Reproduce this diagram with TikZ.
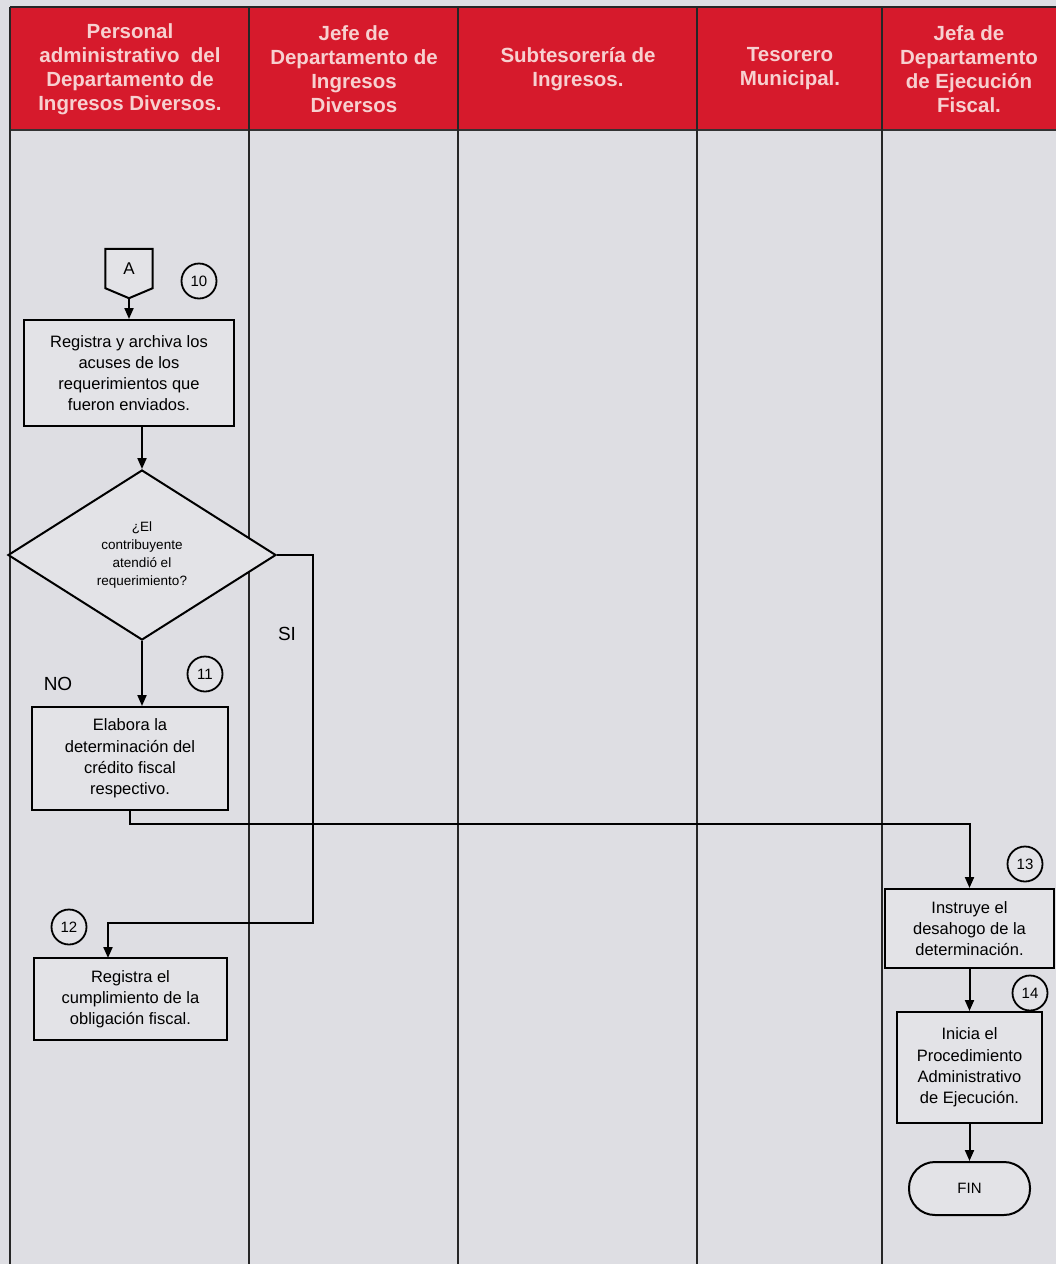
\documentclass[tikz,border=0pt]{standalone}
\usepackage{fontspec}
\setmainfont{Liberation Sans}
\usetikzlibrary{shapes.geometric,arrows.meta,calc}

\definecolor{pagebg}{RGB}{222,222,227}
\definecolor{headred}{RGB}{214,26,44}
\definecolor{headtxt}{RGB}{247,208,208}
\definecolor{boxfill}{RGB}{227,227,231}

\begin{document}
\begin{tikzpicture}[x=1pt,y=-1pt,
  lane/.style={line width=1.8pt, draw=black!85},
  head/.style={text=headtxt, font=\bfseries\fontsize{20.5}{24}\selectfont, align=center},
  proc/.style={draw, line width=2pt, fill=boxfill, align=center, inner sep=0pt,
               font=\fontsize{16.5}{21.2}\selectfont},
  decision/.style={diamond, draw, line width=2pt, fill=boxfill, inner sep=0pt,
               minimum width=268pt, minimum height=170pt},
  qtext/.style={align=center, font=\fontsize{13.5}{18.3}\selectfont},
  stepnum/.style={circle, draw, line width=1.8pt, fill=boxfill, minimum size=35pt,
               inner sep=0pt, font=\fontsize{15}{15}\selectfont},
  terminal/.style={draw, line width=2pt, fill=boxfill, rounded corners=26pt,
               minimum width=121pt, minimum height=53pt, inner sep=0pt,
               font=\fontsize{15}{15}\selectfont},
  arr/.style={line width=2pt, -{Triangle[length=11pt,width=9pt]}},
  branch/.style={font=\fontsize{19}{19}\selectfont}
]
\useasboundingbox (0,0) rectangle (1056,1264);
\fill[pagebg] (0,0) rectangle (1056,1264);

% header band
\fill[headred] (10,7) rectangle (1056,130);
\draw[lane] (10,7) -- (1056,7);
\draw[line width=2.4pt, draw=black!80] (10,130) -- (1056,130);
\foreach \lx in {10,249,458,697,882}
  \draw[lane] (\lx,7) -- (\lx,1264);

\node[head] (h1) at (130,69) {Personal\\administrativo\ \ del\\Departamento de\\Ingresos Diversos.};
\node[head] (h2) at (354,69) {Jefe de\\Departamento de\\Ingresos\\Diversos};
\node[head] (h3) at (578,69) {Subtesorería de\\Ingresos.};
\node[head] (h4) at (790,69) {Tesorero\\Municipal.};
\node[head] (h5) at (969,69) {Jefa de\\Departamento\\de Ejecución\\Fiscal.};

% off-page connector A
\node[minimum width=47pt, minimum height=39pt, inner sep=0pt] (A) at (129,268.5) {};
\coordinate (Atip) at ($(A.south)+(0,10)$);
\draw[line width=2pt, fill=boxfill] (A.north west) -- (A.north east) -- (A.south east)
  -- (Atip) -- (A.south west) -- cycle;
\node[font=\fontsize{17}{17}\selectfont] (Alabel) at (A) {A};

% process boxes
\node[proc, minimum width=210pt, minimum height=106pt] (b1) at (129,373)
  {Registra y archiva los\\acuses de los\\requerimientos que\\fueron enviados.};
\node[decision, label={[qtext]center:{¿El\\contribuyente\\atendió el\\requerimiento?}}] (d1) at (142,555) {};
\node[proc, minimum width=196pt, minimum height=103pt] (b2) at (130,758.5)
  {Elabora la\\determinación del\\crédito fiscal\\respectivo.};
\node[proc, minimum width=193pt, minimum height=82pt] (b3) at (130.5,999)
  {Registra el\\cumplimiento de la\\obligación fiscal.};
\node[proc, minimum width=169pt, minimum height=79pt] (b13) at (969.5,928.5)
  {Instruye el\\desahogo de la\\determinación.};
\node[proc, minimum width=145pt, minimum height=111pt] (b14) at (969.5,1067.5)
  {Inicia el\\Procedimiento\\Administrativo\\de Ejecución.};
\node[terminal] (fin) at (969.5,1188.5) {FIN};

% step numbers
\node[stepnum] (n10) at (199,281) {10};
\node[stepnum] (n11) at (205,674) {11};
\node[stepnum] (n12) at (69,927) {12};
\node[stepnum] (n13) at (1025,864) {13};
\node[stepnum] (n14) at (1030,993) {14};

% branch labels
\node[branch] (si) at (287,634) {SI};
\node[branch] (no) at (58,684) {NO};

% connectors
\coordinate (siR) at (313,923);
\coordinate (b3in) at (108,958);
\draw[arr] (Atip) -- (b1.north);
\draw[arr] (b1.south -| d1.north) -- (d1.north);
\draw[arr] (d1.south) -- (d1.south |- b2.north);
\draw[arr] (d1.east) -| (siR) -| (b3in);
\draw[arr] (b2.south) -- ++(0,13) -| (b13.north);
\draw[arr] (b13.south) -- (b14.north);
\draw[arr] (b14.south) -- (fin.north);
\end{tikzpicture}
\end{document}
